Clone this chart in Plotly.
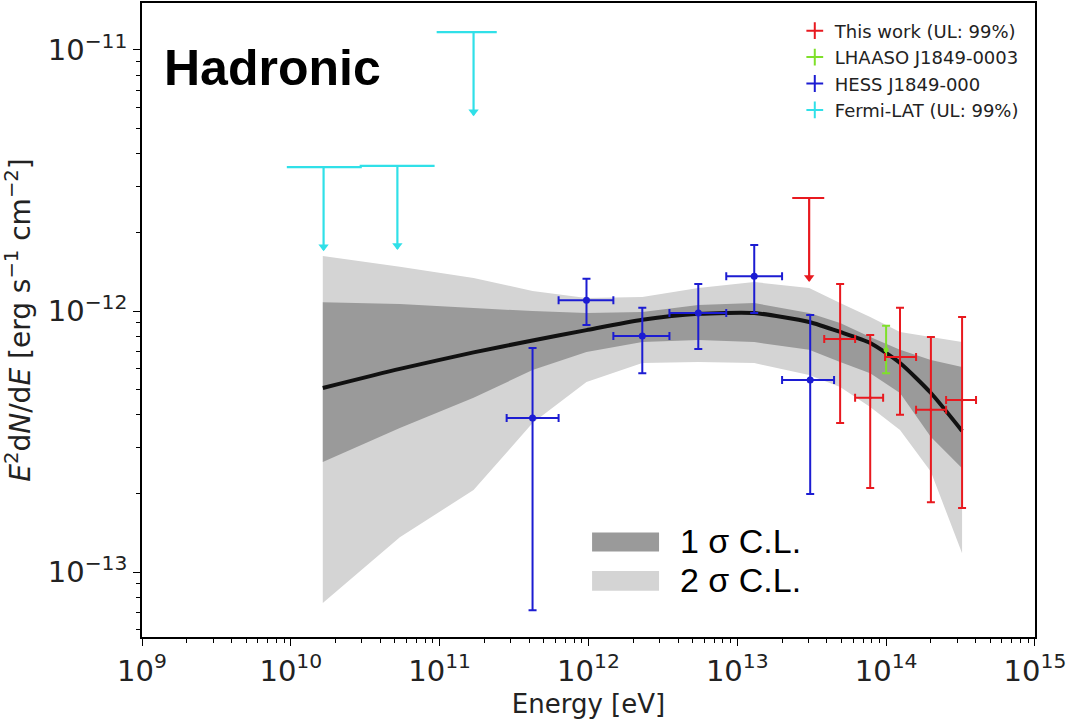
import numpy as np
import plotly.graph_objects as go

# ---------------- data ----------------
# model curve and confidence bands
model_E = [1.64e10, 5.40e10, 1.69e11, 4.21e11, 9.70e11, 2.30e12, 5.47e12, 1.30e13,
           3.04e13, 4.91e13, 7.82e13, 1.24e14, 2.00e14, 3.24e14]
model_F = [5.07e-13, 6.00e-13, 6.94e-13, 7.71e-13, 8.45e-13, 9.25e-13, 9.75e-13, 9.82e-13,
           9.08e-13, 8.31e-13, 7.54e-13, 6.32e-13, 4.85e-13, 3.47e-13]
sig1_hi = [1.081e-12, 1.063e-12, 1.026e-12, 1.000e-12, 9.82e-13, 9.91e-13, 1.054e-12, 1.073e-12,
           9.82e-13, 8.99e-13, 7.95e-13, 7.10e-13, 6.49e-13, 6.10e-13]
sig1_lo = [2.64e-13, 3.56e-13, 4.65e-13, 5.94e-13, 6.97e-13, 7.60e-13, 7.74e-13, 7.60e-13,
           7.10e-13, 6.38e-13, 5.78e-13, 4.85e-13, 3.29e-13, 2.50e-13]
sig2_hi = [1.625e-12, 1.476e-12, 1.338e-12, 1.193e-12, 1.122e-12, 1.132e-12, 1.225e-12, 1.291e-12,
           1.225e-12, 1.073e-12, 9.48e-13, 8.31e-13, 7.95e-13, 7.60e-13]
sig2_lo = [7.60e-14, 1.36e-13, 2.06e-13, 3.72e-13, 5.35e-13, 6.32e-13, 6.38e-13, 6.32e-13,
           5.69e-13, 5.12e-13, 4.29e-13, 3.50e-13, 2.42e-13, 1.18e-13]

# This work (red)
tw_E = [4.91e13, 7.82e13, 1.24e14, 2.00e14, 3.24e14]
tw_Elo = [3.84e13, 6.19e13, 9.84e13, 1.59e14, 2.53e14]
tw_Ehi = [6.19e13, 9.55e13, 1.59e14, 2.53e14, 4.02e14]
tw_F = [7.81e-13, 4.65e-13, 6.67e-13, 4.18e-13, 4.56e-13]
tw_Fhi = [1.27e-12, 8.09e-13, 1.03e-12, 7.95e-13, 9.48e-13]
tw_Flo = [3.72e-13, 2.10e-13, 4.00e-13, 1.85e-13, 1.76e-13]
tw_ul_E = [3.04e13]
tw_ul_Elo = [2.34e13]
tw_ul_Ehi = [3.84e13]
tw_ul_F = [2.71e-12]

# LHAASO (green)
lh_E = [1.00e14]
lh_F = [7.10e-13]
lh_Fhi = [8.77e-13]
lh_Flo = [5.78e-13]

# HESS (blue)
hess_E = [4.21e11, 9.70e11, 2.30e12, 5.47e12, 1.30e13, 3.09e13]
hess_Elo = [2.82e11, 6.30e11, 1.47e12, 3.50e12, 8.43e12, 2.00e13]
hess_Ehi = [6.30e11, 1.47e12, 3.50e12, 8.43e12, 2.00e13, 4.47e13]
hess_F = [3.89e-13, 1.10e-12, 8.02e-13, 9.82e-13, 1.36e-12, 5.44e-13]
hess_Fhi = [7.21e-13, 1.33e-12, 1.03e-12, 1.27e-12, 1.79e-12, 9.66e-13]
hess_Flo = [7.14e-14, 8.83e-13, 5.78e-13, 7.15e-13, 9.82e-13, 1.99e-13]

# Fermi-LAT upper limits (cyan)
fermi_E = [1.66e10, 5.20e10, 1.69e11]
fermi_Elo = [9.40e9, 2.90e10, 9.55e10]
fermi_Ehi = [3.00e10, 9.25e10, 2.42e11]
fermi_UL = [3.56e-12, 3.60e-12, 1.17e-11]

x_tickvals = [1e9, 1e10, 1e11, 1e12, 1e13, 1e14, 1e15]
x_ticktext = ["10<sup>9</sup>", "10<sup>10</sup>", "10<sup>11</sup>", "10<sup>12</sup>",
              "10<sup>13</sup>", "10<sup>14</sup>", "10<sup>15</sup>"]
y_tickvals = [1e-13, 1e-12, 1e-11]
y_ticktext = ["10<sup>\u221213</sup>", "10<sup>\u221212</sup>", "10<sup>\u221211</sup>"]

legend_names = ["This work (UL: 99%)", "LHAASO J1849-0003", "HESS J1849-000", "Fermi-LAT (UL: 99%)"]
band_labels = ["1 \u03c3 C.L.", "2 \u03c3 C.L."]

# ---------------- styles ----------------
RED = "#e8191f"
GREEN = "#7fe02a"
BLUE = "#1c1cd2"
CYAN = "#30e0e8"
DARK = "#9a9a9a"
LIGHT = "#d4d4d4"
ARROW_FACTOR = 0.481

fig = go.Figure()

def band(lo, hi, color):
    xs = list(model_E) + list(model_E)[::-1]
    ys = list(hi) + list(lo)[::-1]
    fig.add_trace(go.Scatter(x=xs, y=ys, fill="toself", fillcolor=color, mode="none",
                             line=dict(width=0), hoverinfo="skip", showlegend=False))

band(sig2_lo, sig2_hi, LIGHT)
band(sig1_lo, sig1_hi, DARK)
fig.add_trace(go.Scatter(x=model_E, y=model_F, mode="lines",
                         line=dict(color="#111111", width=4, shape="spline", smoothing=0.6),
                         showlegend=False))

def errpts(E, Elo, Ehi, F, Flo, Fhi, color, msize):
    E = np.array(E); F = np.array(F)
    fig.add_trace(go.Scatter(
        x=E, y=F, mode="markers", marker=dict(color=color, size=msize), showlegend=False,
        error_x=dict(type="data", symmetric=False, array=np.array(Ehi) - E, arrayminus=E - np.array(Elo),
                     color=color, thickness=2, width=4),
        error_y=dict(type="data", symmetric=False, array=np.array(Fhi) - F, arrayminus=F - np.array(Flo),
                     color=color, thickness=2, width=4),
    ))

def ulpts(E, Elo, Ehi, UL, color):
    E = np.array(E); UL = np.array(UL)
    fig.add_trace(go.Scatter(
        x=E, y=UL, mode="markers", marker=dict(color=color, size=1, opacity=0), showlegend=False,
        error_x=dict(type="data", symmetric=False, array=np.array(Ehi) - E, arrayminus=E - np.array(Elo),
                     color=color, thickness=2.2, width=0),
    ))
    xs, ys = [], []
    for e, u in zip(E, UL):
        xs += [e, e, None]
        ys += [u, u * ARROW_FACTOR, None]
    fig.add_trace(go.Scatter(x=xs, y=ys, mode="lines", line=dict(color=color, width=2.2),
                             showlegend=False))
    fig.add_trace(go.Scatter(x=E, y=UL * ARROW_FACTOR * 1.03, mode="markers",
                             marker=dict(symbol="triangle-down", size=9, color=color),
                             showlegend=False))

ulpts(fermi_E, fermi_Elo, fermi_Ehi, fermi_UL, CYAN)
errpts(hess_E, hess_Elo, hess_Ehi, hess_F, hess_Flo, hess_Fhi, BLUE, 7)
errpts(lh_E, lh_E, lh_E, lh_F, lh_Flo, lh_Fhi, GREEN, 5)
errpts(tw_E, tw_Elo, tw_Ehi, tw_F, tw_Flo, tw_Fhi, RED, 3)
ulpts(tw_ul_E, tw_ul_Elo, tw_ul_Ehi, tw_ul_F, RED)

# legend entries
for name, col in zip(legend_names, [RED, GREEN, BLUE, CYAN]):
    fig.add_trace(go.Scatter(x=[None], y=[None], mode="markers", name=name,
                             marker=dict(symbol="cross-thin-open", size=18, color=col,
                                         line=dict(width=2.5, color=col))))

# band legend (shapes + text)
shapes = [
    dict(type="rect", xref="paper", yref="paper", x0=0.504, x1=0.579, y0=0.135, y1=0.165,
         fillcolor=DARK, line=dict(width=0)),
    dict(type="rect", xref="paper", yref="paper", x0=0.504, x1=0.579, y0=0.073, y1=0.104,
         fillcolor=LIGHT, line=dict(width=0)),
]
annotations = [
    dict(text="Hadronic", xref="paper", yref="paper", x=0.022, y=0.897, xanchor="left", yanchor="middle",
         showarrow=False, font=dict(family="Liberation Sans", size=50, color="black", weight="bold")),
    dict(text=band_labels[0], xref="paper", yref="paper", x=0.600, y=0.152, xanchor="left", yanchor="middle",
         showarrow=False, font=dict(family="Liberation Sans", size=34, color="black")),
    dict(text=band_labels[1], xref="paper", yref="paper", x=0.600, y=0.090, xanchor="left", yanchor="middle",
         showarrow=False, font=dict(family="Liberation Sans", size=34, color="black")),
]

axis_common = dict(type="log", showgrid=False, zeroline=False, showline=True, linecolor="black",
                   linewidth=1.5, mirror=True, ticks="outside", ticklen=7, tickwidth=1.3,
                   tickcolor="black", ticklabeloverflow="allow", automargin=False,
                   tickfont=dict(family="DejaVu Sans", size=29, color="#222222"),
                   minor=dict(ticks="outside", ticklen=4, tickwidth=1, tickcolor="black", dtick="D1",
                              showgrid=False))

fig.update_layout(
    width=1067, height=721,
    margin=dict(l=142, r=32, t=3, b=84),
    paper_bgcolor="white", plot_bgcolor="white",
    shapes=shapes, annotations=annotations,
    showlegend=True,
    legend=dict(x=0.731, y=0.985, xanchor="left", yanchor="top", bgcolor="rgba(0,0,0,0)",
                font=dict(family="DejaVu Sans", size=18, color="#222222"), tracegroupgap=0,
                itemsizing="constant"),
    xaxis=dict(range=[9, 15.0005], tickmode="array", tickvals=x_tickvals, ticktext=x_ticktext,
               title=dict(text="Energy [eV]", standoff=8,
                          font=dict(family="DejaVu Sans", size=26, color="#222222")), **axis_common),
    yaxis=dict(range=[-13.249, -10.82], tickmode="array", tickvals=y_tickvals, ticktext=y_ticktext,
               title=dict(text="<i>E</i><sup>2</sup>d<i>N</i>/d<i>E</i> [erg s<sup>\u22121</sup> cm<sup>\u22122</sup>]",
                          standoff=10, font=dict(family="DejaVu Sans", size=28, color="#222222")),
               **axis_common),
)

fig.write_html("out.html", config={"displayModeBar": False},
               post_script="document.body.style.margin='0';document.body.style.padding='0';")
